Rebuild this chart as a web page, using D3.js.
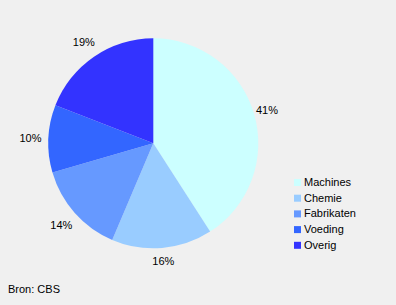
<!DOCTYPE html>
<html>
<head>
<meta charset="utf-8">
<script src="https://cdn.jsdelivr.net/npm/d3@7"></script>
<style>
    body { margin: 0; background: #f0f0f0; }
    svg { display: block; font-family: "Liberation Sans", Arial, sans-serif; }
</style>
</head>
<body>
<svg id="chart" width="396" height="305"></svg>
<script>
// shares (labels are rounded)
const categories = ["Machines", "Chemie", "Fabrikaten", "Voeding", "Overig"];
const values = [40.9, 15.5, 14.1, 10.4, 19.1];
const labels = ["41%", "16%", "14%", "10%", "19%"];
const colors = ["#ccffff", "#99ccff", "#6699ff", "#3366ff", "#3333ff"];

const svg = d3.select("#chart");
const cx = 153.3, cy = 143.3, r = 105;

const pie = d3.pie().sort(null).value(d => d.value);
const arc = d3.arc().innerRadius(0).outerRadius(r);
// labels on the left sit a bit further out than those on the right
const labelArcR = d3.arc().innerRadius(118.5).outerRadius(118.5);
const labelArcL = d3.arc().innerRadius(123).outerRadius(123);

const data = categories.map((c, i) => ({name: c, value: values[i], label: labels[i]}));
const color = d3.scaleOrdinal().domain(categories).range(colors);

const g = svg.append("g").attr("transform", `translate(${cx},${cy})`);

const arcs = pie(data);
g.selectAll("path")
    .data(arcs)
    .join("path")
    .attr("d", arc)
    .attr("fill", d => color(d.data.name));

g.selectAll("text")
    .data(arcs)
    .join("text")
    .attr("transform", d => {
        const mid = (d.startAngle + d.endAngle) / 2;
        const la = mid > Math.PI ? labelArcL : labelArcR;
        return `translate(${la.centroid(d)})`;
    })
    .attr("text-anchor", "middle")
    .attr("dy", "0.35em")
    .attr("font-size", 11)
    .attr("fill", "#000")
    .text(d => d.data.label);

// legend
const legend = svg.append("g").attr("transform", "translate(294,179)");
const rows = legend.selectAll("g")
    .data(categories)
    .join("g")
    .attr("transform", (d, i) => `translate(0,${i * 15.7})`);

rows.append("rect")
    .attr("width", 7)
    .attr("height", 7)
    .attr("fill", d => color(d));

rows.append("text")
    .attr("x", 10)
    .attr("y", 7)
    .attr("font-size", 11)
    .text(d => d);

svg.append("text")
    .attr("x", 8)
    .attr("y", 293)
    .attr("font-size", 11)
    .text("Bron: CBS");
</script>
</body>
</html>
